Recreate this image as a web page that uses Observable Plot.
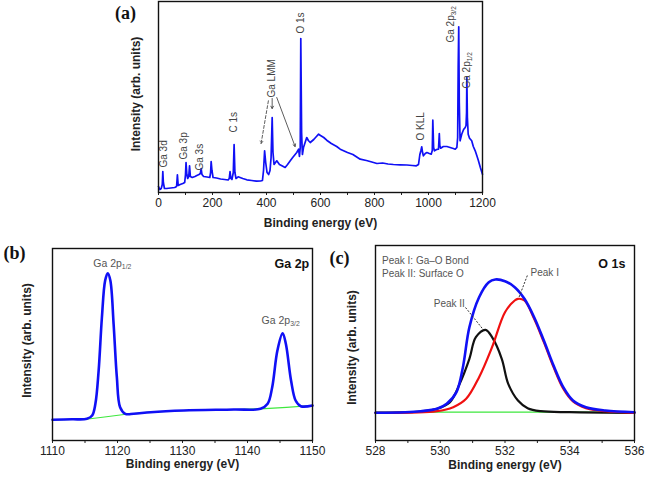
<!DOCTYPE html>
<html><head><meta charset="utf-8">
<script src="https://cdn.jsdelivr.net/npm/d3@7"></script>
<script src="https://cdn.jsdelivr.net/npm/@observablehq/plot@0.6"></script>
<style>
body{margin:0;background:#fff}
#wrap{position:relative;width:646px;height:481px;overflow:hidden;background:#fff}
.panel{position:absolute}
</style></head><body><div id="wrap"></div>
<script>
// ---------- Panel (a): survey spectrum ----------
const aEnergy = [0,5,10,14,16,18,22,30,45,60,67,70,73,80,90,97,100,102,105,108,112,115,118,125,135,142,150,155,158,161,167,180,190,193,195,198,202,215,230,245,258,262,265,268,272,277,280,283,287,295,302,312,327,345,364,378,385,389,393,397,402,408,413,417,421,424,428,438,448,457,469,478,488,497,506,512,519,522,525,527,530,533,537,543,549,555,562,575,585,593,600,612,623,640,660,673,700,720,747,770,790,809,830,850,870,895,920,940,955,963,968,972,975,978,981,988,994,1003,1010,1014,1016,1019,1022,1030,1037,1040,1042,1045,1055,1068,1080,1092,1099,1105,1108,1110,1112,1114,1117,1123,1130,1136,1139,1141,1142,1144,1147,1152,1160,1166,1173,1180,1185,1192,1200];
const aIntensity = [6,3,4,8,21,10,4,4,4.5,5,6,17.7,7,8,9,10,18,30,18,14,16,26.7,16,15,16,17,18,19,24,18,16,15.5,15,20,31,22,15,14.5,13.5,13,12.5,14,21,14,13,20,48,20,14,15.7,15,14,12.7,12,11.3,11.5,12,22,41.7,30,20,18,22,35,75,40,28,31.7,28,26.7,25,28,31.7,35,38,40,43.3,36,45,154,60,38,45,50,55,52,50,53,56,58.3,57,55,52.3,49,46,43.3,40,38,33.3,32,30.5,29,29.5,28.5,28,27.7,27.5,27,26.7,28,38,42,45.7,40,36.7,39,40,39,38.3,42,72.3,45,41.7,43,43.3,59,47,44.3,46,46,45,44,43.3,45,55,125,165.7,90,51.7,58.3,63,65,67,80,115.7,75,58.3,54.3,51.7,46,41.7,36,31.7,25,18.3];
const aLabels = ["Ga 3d","Ga 3p","Ga 3s","C 1s","Ga LMM","O 1s","O KLL","Ga 2p_{3/2}","Ga 2p_{1/2}"];
const aLabelEnergy = [21,95,154,278,420,528,973,1083,1142];
const aLabelIntensity = [25,33,22,60,95,159,52,150,104];
const aArrowX1 = [407,421,438], aArrowY1 = [91.7,94,95];
const aArrowX2 = [380,421,506], aArrowY2 = [49,84,46];
const aArrowDash = ["3,2","none","none"];
const aTicks = [0,200,400,600,800,1000,1200];
const aMinor = [100,300,500,700,900,1100];

// ---------- Panel (b): Ga 2p ----------
const bEnergy = [1110,1113,1115.3,1116.1,1116.6,1117.1,1117.6,1118.1,1118.5,1118.9,1119.4,1119.9,1120.4,1121.2,1122.5,1125.1,1130.2,1137.9,1142,1143.1,1143.8,1144.6,1145.4,1145.9,1146.7,1147.4,1148.2,1150];
const bIntensity = [20.7,21.2,21.7,25,36.7,70,123,160,167.3,160,116.7,63.3,33.3,26.7,26.7,28.3,30,31,31.7,36.7,53.3,90,107.3,96.7,60,40,34.3,35];
const bBgEnergy = [1110,1115.5,1118,1121,1125,1130,1138,1142,1146,1150];
const bBgIntensity = [20.7,21.5,23.5,26,28.3,30,31,31.7,33.2,35];
const bTicks = [1110,1120,1130,1140,1150];
const bMinor = [1115,1125,1135,1145];

// ---------- Panel (c): O 1s ----------
const cEnergy = [528,528.9,529.4,529.9,530.2,530.5,530.7,530.9,531.2,531.5,531.7,532.0,532.3,532.6,532.9,533.2,533.5,533.8,534.1,534.5,535.1,536];
const cEnvelope = [27.7,28.3,29.3,31.7,36.7,48.3,73.3,113.3,143.3,158.3,161,159.3,153.3,141.7,123.3,100,75,53.3,40,33.3,30,28.3];
const cPeak1Energy = [528,529.9,530.4,530.8,531.2,531.6,532.0,532.3,532.4,532.6,532.9,533.2,533.5,533.8,534.1,534.5,535.1,536];
const cPeak1 = [27.7,29.3,33.3,41.7,63.3,93.3,128.3,140,141.7,140,121.7,98.3,73.3,51.7,39,32.3,29.3,27.7];
const cPeak2Energy = [528,529.4,529.9,530.3,530.6,530.9,531.1,531.4,531.6,531.9,532.1,532.4,532.7,533.1,534.0,536];
const cPeak2 = [27.7,29,31.7,38.3,56.7,81.7,103.3,110.7,103.3,81.7,56.7,40,32.3,29.3,28.3,27.7];
const cBgEnergy = [528,536];
const cBg = [28.3,28.3];
const cTicks = [528,530,532,534,536];
const cMinor = [529,531,533,535];
const cLabels = ["Peak I: Ga\u2013O Bond","Peak II: Surface O","Peak I","Peak II"];
const cLabelEnergy = [528.2,528.2,532.79,529.8];
const cLabelIntensity = [180,167,168,137];
const cLeadX1 = [532.69,530.78], cLeadY1 = [165,133];
const cLeadX2 = [532.43,531.30], cLeadY2 = [143,112];

const rows = (xs, ys) => xs.map((x, i) => ({x, y: ys[i]}));
const sans = "Liberation Sans, Arial, Helvetica, sans-serif";
const serif = "Liberation Serif, Times New Roman, serif";
const blue = "#1010f5";

function common(opts) {
  return [
    Plot.axisX({ticks: opts.ticks, tickSize: 3, tickPadding: 3, tickFormat: d => String(d), label: null, fontSize: 12, stroke: "#222"}),
    Plot.axisX({ticks: opts.minor, tickSize: 3, tickFormat: () => "", label: null, stroke: "#222"}),
    Plot.text(["Binding energy (eV)"], {frameAnchor: "bottom", textAnchor: "middle", lineAnchor: "middle", dy: opts.titleDy, fontWeight: "bold", fontSize: 12, fill: "#222", fontFamily: sans}),
    Plot.text(["Intensity (arb. units)"], {frameAnchor: "left", textAnchor: "middle", lineAnchor: "middle", rotate: -90, dx: opts.yDx, dy: opts.yDy, fontWeight: "bold", fontSize: 12, fill: "#222", fontFamily: sans}),
    Plot.text([opts.letter], {frameAnchor: "top-left", textAnchor: "middle", lineAnchor: "middle", dx: opts.lDx, dy: opts.lDy, fontWeight: "bold", fontSize: 18, fill: "#111", fontFamily: serif}),
    Plot.frame({stroke: "#111", strokeWidth: 1.4})
  ];
}

function subs(svg) {
  svg.querySelectorAll("text").forEach(t => {
    const m = t.textContent.match(/^(.*)_\{(.+)\}$/);
    if (m) {
      t.textContent = m[1];
      const ts = document.createElementNS("http://www.w3.org/2000/svg", "tspan");
      ts.setAttribute("font-size", "0.65em");
      ts.setAttribute("dy", "0.35em");
      ts.textContent = m[2];
      t.appendChild(ts);
    }
  });
}

function place(svg, left, top) {
  const d = document.createElement("div");
  d.className = "panel";
  d.style.left = left + "px";
  d.style.top = top + "px";
  d.appendChild(svg);
  subs(svg);
  document.getElementById("wrap").appendChild(d);
}

const style = {fontFamily: sans, fontSize: "12px", color: "#222", background: "transparent", overflow: "visible"};

// Panel (a)
const aLab = aLabels.map((t, i) => ({t, x: aLabelEnergy[i], y: aLabelIntensity[i]}));
const aArr = aArrowX1.map((x1, i) => ({x1, y1: aArrowY1[i], x2: aArrowX2[i], y2: aArrowY2[i], dash: aArrowDash[i]}));
const svgA = Plot.plot({
  width: 500, height: 232, marginLeft: 158, marginRight: 18, marginTop: 1, marginBottom: 40,
  style,
  x: {domain: [0, 1200], axis: null},
  y: {domain: [0, 191], axis: null},
  marks: [
    Plot.line(rows(aEnergy, aIntensity), {x: "x", y: "y", stroke: blue, strokeWidth: 1.7}),
    Plot.text(aLab, {x: "x", y: "y", text: "t", rotate: -90, textAnchor: "start", fontSize: 10, fill: "#444", fontFamily: sans}),
    Plot.arrow(aArr.filter(d => d.dash !== "none"), {x1: "x1", y1: "y1", x2: "x2", y2: "y2", stroke: "#333", strokeWidth: 0.8, headLength: 5, strokeDasharray: "3,2"}),
    Plot.arrow(aArr.filter(d => d.dash === "none"), {x1: "x1", y1: "y1", x2: "x2", y2: "y2", stroke: "#333", strokeWidth: 0.8, headLength: 5}),
    ...common({ticks: aTicks, minor: aMinor, titleDy: 31, yDx: -22, yDy: -3, letter: "(a)", lDx: -33, lDy: 12})
  ]
});
place(svgA, 0, 0);

// Panel (b)
const svgB = Plot.plot({
  width: 330, height: 249, marginLeft: 52, marginRight: 18, marginTop: 16, marginBottom: 41,
  style,
  x: {domain: [1110, 1150], axis: null},
  y: {domain: [0, 192], axis: null},
  marks: [
    Plot.line(rows(bBgEnergy, bBgIntensity), {x: "x", y: "y", stroke: "#3ee83e", strokeWidth: 1.2}),
    Plot.line(rows(bEnergy, bIntensity), {x: "x", y: "y", stroke: blue, strokeWidth: 2.6, curve: "catmull-rom"}),
    Plot.text([{t: "Ga 2p_{1/2}", x: 1119.2, y: 177}, {t: "Ga 2p_{3/2}", x: 1145.1, y: 120}], {x: "x", y: "y", text: "t", fontSize: 10.5, fill: "#555", fontFamily: sans}),
    Plot.text([{t: "Ga 2p", x: 1149.5, y: 177}], {x: "x", y: "y", text: "t", textAnchor: "end", fontSize: 12.5, fontWeight: "bold", fill: "#111", fontFamily: sans}),
    ...common({ticks: bTicks, minor: bMinor, titleDy: 24, yDx: -25, yDy: -4, letter: "(b)", lDx: -38, lDy: 5})
  ]
});
place(svgB, 0, 232);

// Panel (c)
const cLab = cLabels.map((t, i) => ({t, x: cLabelEnergy[i], y: cLabelIntensity[i]}));
const cLead = cLeadX1.map((x1, i) => ({x1, y1: cLeadY1[i], x2: cLeadX2[i], y2: cLeadY2[i]}));
const svgC = Plot.plot({
  width: 316, height: 249, marginLeft: 45, marginRight: 12, marginTop: 13, marginBottom: 41,
  style,
  x: {domain: [528, 536], axis: null},
  y: {domain: [0, 195], axis: null},
  marks: [
    Plot.line(rows(cBgEnergy, cBg), {x: "x", y: "y", stroke: "#3ee83e", strokeWidth: 1.3}),
    Plot.line(rows(cPeak2Energy, cPeak2), {x: "x", y: "y", stroke: "#111", strokeWidth: 2.2, curve: "catmull-rom"}),
    Plot.line(rows(cPeak1Energy, cPeak1), {x: "x", y: "y", stroke: "#f01010", strokeWidth: 2.2, curve: "catmull-rom"}),
    Plot.line(rows(cEnergy, cEnvelope), {x: "x", y: "y", stroke: blue, strokeWidth: 2.6, curve: "catmull-rom"}),
    Plot.link(cLead, {x1: "x1", y1: "y1", x2: "x2", y2: "y2", stroke: "#333", strokeWidth: 1, strokeDasharray: "2,1.5"}),
    Plot.text(cLab, {x: "x", y: "y", text: "t", textAnchor: "start", fontSize: 10, fill: "#555", fontFamily: sans}),
    Plot.text([{t: "O 1s", x: 535.72, y: 177}], {x: "x", y: "y", text: "t", textAnchor: "end", fontSize: 12.5, fontWeight: "bold", fill: "#111", fontFamily: sans}),
    ...common({ticks: cTicks, minor: cMinor, titleDy: 25, yDx: -23, yDy: 4.5, letter: "(c)", lDx: -36, lDy: 13})
  ]
});
place(svgC, 330, 232);
</script></body></html>
